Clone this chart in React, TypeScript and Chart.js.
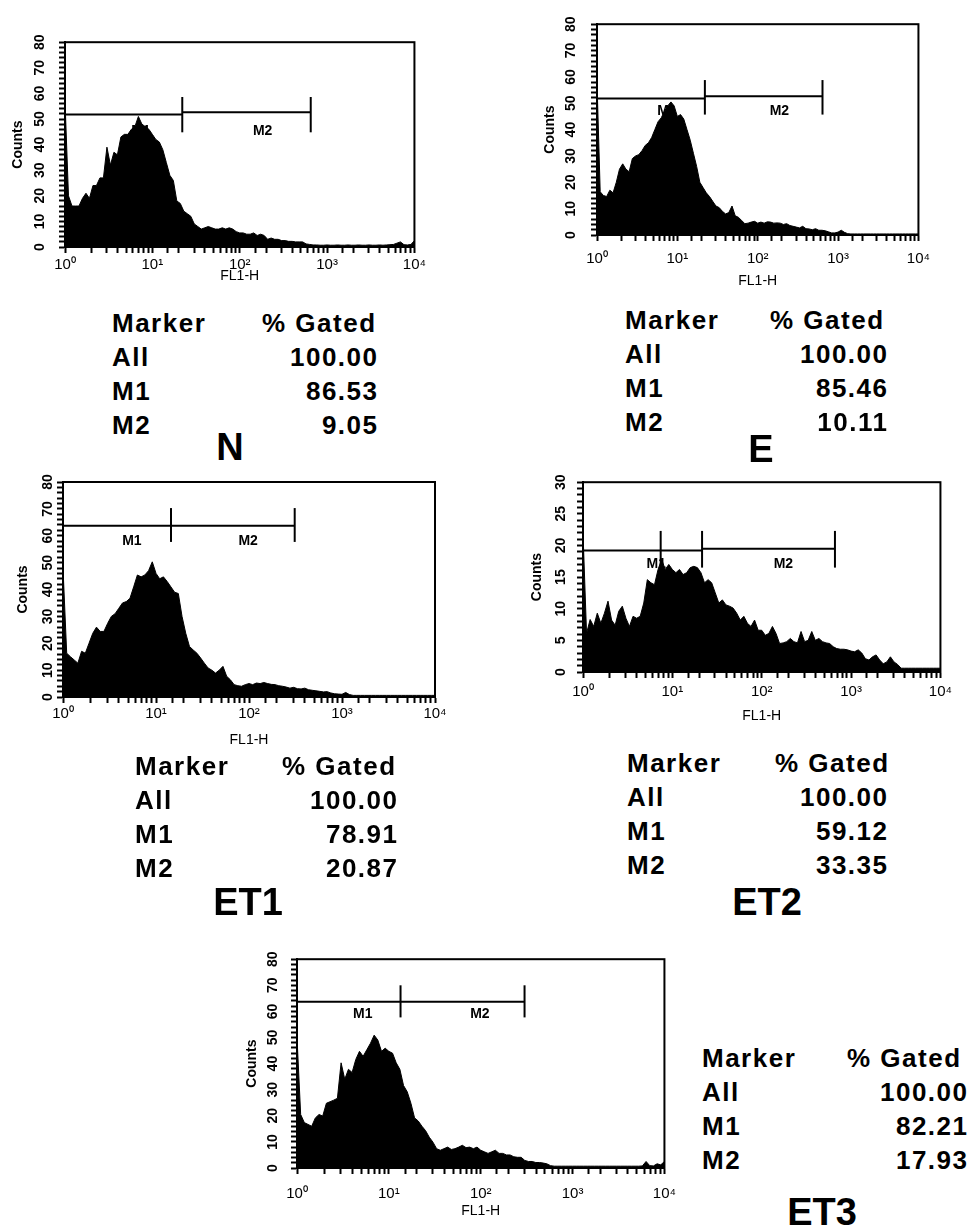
import React, { useEffect, useRef } from "react";
import { Chart, registerables } from "chart.js";

Chart.register(...registerables);

const FONT = "'Liberation Sans', Arial, Helvetica, sans-serif";

// Histogram channel positions (FL1-H, log decades 10^0..10^4)
const CHANNELS = [
  1, 1.096, 1.202, 1.318, 1.445, 1.585, 1.738, 1.905, 2.089, 2.291, 2.512, 2.754, 3.02, 3.311, 3.631, 3.981, 4.365, 4.786, 5.248, 5.754, 6.31, 6.918, 7.586, 8.318, 9.12,
  10, 10.96, 12.02, 13.18, 14.45, 15.85, 17.38, 19.05, 20.89, 22.91, 25.12, 27.54, 30.2, 33.11, 36.31, 39.81, 43.65, 47.86, 52.48, 57.54, 63.1, 69.18, 75.86, 83.18, 91.2,
  100, 109.6, 120.2, 131.8, 144.5, 158.5, 173.8, 190.5, 208.9, 229.1, 251.2, 275.4, 302, 331.1, 363.1, 398.1, 436.5, 478.6, 524.8, 575.4, 631, 691.8, 758.6, 831.8, 912,
  1000, 1096, 1202, 1318, 1445, 1585, 1738, 1905, 2089, 2291, 2512, 2754, 3020, 3311, 3631, 3981, 4365, 4786, 5248, 5754, 6310, 6918, 7586, 8318, 9120,
  10000,
];

const N_COUNTS = [
  57, 20, 16, 16, 16, 19, 21, 19, 24, 24,
  27, 27, 39, 32, 37, 36, 43, 44, 44, 46,
  47, 51, 48, 47, 46, 44, 42, 41, 38, 33,
  28, 26, 18, 17, 14, 13, 12, 9, 8, 7,
  7.5, 8, 7.5, 7, 7, 7.5, 7, 7.5, 7, 6,
  5.5, 5.5, 5, 5, 5.5, 4.5, 5, 4.5, 3, 3.5,
  3, 3, 2.5, 2.5, 2.2, 2.2, 2, 2, 2, 1.2,
  1, 0.8, 0.8, 0.7, 0.7, 0.8, 0.7, 0.7, 0.8, 0.7,
  0.7, 0.8, 0.7, 0.7, 0.8, 0.7, 0.7, 0.8, 0.7, 0.7,
  0.8, 0.7, 0.8, 0.9, 1, 1.5, 2, 0.9, 0.8, 1,
  2.5,
];

const E_COUNTS = [
  58, 16.4, 15, 14.6, 17, 16, 20, 25, 27, 25,
  24, 29, 30, 30.5, 32, 34, 35, 37, 40, 43,
  44.5, 47, 49, 50.5, 49, 45, 45.7, 44, 40, 36,
  31, 26, 20, 18, 16, 14.6, 12.8, 11, 10.4, 9,
  8, 8.5, 11, 7.3, 6.7, 5.5, 4.3, 4.5, 4.9, 5.2,
  4.5, 4.9, 4.5, 5, 4.9, 4.5, 4.6, 4.5, 4, 4.3,
  3.6, 3.3, 3, 2.7, 3.3, 2.4, 2.3, 2, 2.4, 1.8,
  1.8, 1.6, 1.2, 0.8, 0.8, 1.1, 1.8, 1, 0.5, 0.4,
  0.4, 0.4, 0.4, 0.4, 0.4, 0.4, 0.4, 0.4, 0.4, 0.4,
  0.4, 0.4, 0.4, 0.4, 0.4, 0.4, 0.4, 0.4, 0.4, 0.4,
  0.4,
];

const ET1_COUNTS = [
  48, 16.3, 15, 13.8, 12.6, 17, 16.3, 20, 23.7, 26,
  24.4, 24.4, 27.4, 30, 31, 33, 35, 35.5, 36.7, 41,
  45.4, 44.7, 45.4, 47, 50.3, 46, 44, 44.7, 43, 41,
  39, 38.5, 30, 23.7, 18.8, 17.5, 16.3, 14.5, 12.6, 10.8,
  10, 8.9, 10, 11.4, 7.7, 6.4, 4.6, 4.2, 4, 4.6,
  5, 4.6, 5.2, 5, 5.4, 5, 4.7, 4.6, 4.2, 4,
  3.7, 3.3, 3.6, 3.1, 3, 3.3, 2.7, 2.5, 2.3, 2.1,
  1.9, 2, 1.5, 1.2, 1.1, 1, 1.7, 0.9, 0.6, 0.6,
  0.6, 0.6, 0.6, 0.6, 0.6, 0.6, 0.6, 0.6, 0.6, 0.6,
  0.6, 0.6, 0.6, 0.6, 0.6, 0.6, 0.6, 0.6, 0.6, 0.6,
  0.6,
];

const ET2_COUNTS = [
  22, 6.1, 8.3, 7.2, 9.3, 7.7, 9.3, 11.2, 8.2, 7.4,
  9.6, 10.4, 8.5, 7.2, 8.8, 8.5, 8.8, 10.9, 14.6, 14.1,
  13.8, 16.2, 17.8, 16.2, 17, 16.2, 15.7, 16.2, 15.4, 15.7,
  16.5, 16.7, 16.5, 15.7, 14.1, 14.6, 14.1, 12.5, 10.9, 11.4,
  10.6, 10.4, 10.1, 9.3, 8.2, 8.8, 7.7, 7.2, 8.2, 6.6,
  6.6, 5.8, 6.1, 7.2, 6.1, 4.5, 4.6, 4.8, 5.3, 4.8,
  4.6, 6.4, 4.8, 5, 6.4, 5, 5.3, 4.8, 4.6, 4.5,
  4, 3.7, 3.6, 3.6, 3.5, 3.3, 3.2, 3.5, 3, 2.1,
  1.9, 2.4, 2.7, 1.9, 1.3, 1.6, 2.4, 1.6, 1.2, 0.6,
  0.6, 0.6, 0.6, 0.6, 0.6, 0.6, 0.6, 0.6, 0.6, 0.6,
  0.6,
];

const ET3_COUNTS = [
  50, 20.5, 17.4, 16.7, 16, 19.2, 20.5, 19.9, 24.8, 25.4,
  26, 26.7, 40.3, 34, 37.8, 36.6, 41.6, 44.7, 42.8, 45.3,
  47.8, 50.9, 49, 44.7, 45.9, 44.7, 44, 40.3, 37.8, 31.6,
  29.2, 24.8, 19.2, 18, 16, 14.3, 11.8, 9.9, 7.4, 6.8,
  7.4, 8, 7.1, 7.4, 8, 8.7, 7.8, 8, 7.4, 8,
  6.8, 6.2, 5.6, 6.2, 6.8, 5.6, 5.6, 5, 5, 4.3,
  4.1, 4.1, 2.9, 2.5, 2.5, 2.1, 2.1, 1.9, 1.6, 0.9,
  0.7, 0.7, 0.7, 0.7, 0.7, 0.7, 0.7, 0.7, 0.7, 0.7,
  0.7, 0.7, 0.7, 0.7, 0.7, 0.7, 0.7, 0.7, 0.7, 0.7,
  0.7, 0.7, 0.7, 0.7, 0.8, 2.5, 0.9, 0.8, 1.6, 1.2,
  2.5,
];

// Axis ticks
const X_TICK_VALUES = [1, 10, 100, 1000, 10000];
const X_TICK_LABELS = ["10\u2070", "10\u00B9", "10\u00B2", "10\u00B3", "10\u2074"];

// Marker gates (M1, M2)
const GATE_NAMES = ["M1", "M2"];
const N_GATE_EDGES = [1, 22, 650];
const N_GATE_LEVELS = [51.8, 52.6];
const N_GATE_BAR = [44.8, 58.6];
const N_GATE_LABEL_X = [7.4, 183];
const N_GATE_LABEL_Y = 45.3;

const E_GATE_EDGES = [1, 22, 640];
const E_GATE_LEVELS = [51.8, 52.7];
const E_GATE_BAR = [45.7, 58.8];
const E_GATE_LABEL_X = [7.4, 186];
const E_GATE_LABEL_Y = 47;

const ET1_GATE_EDGES = [1, 14.5, 310];
const ET1_GATE_LEVELS = [63.7, 63.7];
const ET1_GATE_BAR = [57.7, 70.3];
const ET1_GATE_LABEL_X = [5.5, 98];
const ET1_GATE_LABEL_Y = 58;

const ET2_GATE_EDGES = [1, 7.4, 21.5, 660];
const ET2_GATE_LEVELS = [19.2, 19.2, 19.5];
const ET2_GATE_BAR = [16.5, 22.3];
const ET2_GATE_LABEL_X = [6.6, 175];
const ET2_GATE_LABEL_Y = 17.05;

const ET3_GATE_EDGES = [1, 13.4, 300];
const ET3_GATE_LEVELS = [63.7, 63.7];
const ET3_GATE_BAR = [57.7, 70];
const ET3_GATE_LABEL_X = [5.2, 98];
const ET3_GATE_LABEL_Y = 58.8;

// Statistics tables
const TABLE_HEADER = ["Marker", "% Gated"];
const MARKER_ROWS = ["All", "M1", "M2"];
const N_GATED = ["100.00", "86.53", "9.05"];
const E_GATED = ["100.00", "85.46", "10.11"];
const ET1_GATED = ["100.00", "78.91", "20.87"];
const ET2_GATED = ["100.00", "59.12", "33.35"];
const ET3_GATED = ["100.00", "82.21", "17.93"];
const PANEL_NAMES = ["N", "E", "ET1", "ET2", "ET3"];

type Spec = {
  plot: number[];
  counts: number[];
  yMax: number;
  yStep: number;
  yMajor: number;
  edges: number[];
  levels: number[];
  bar: number[];
  labelX: number[];
  labelY: number;
  yTickPad: number;
  yTitlePad: number;
  xTickPad: number;
  xTitlePad: number;
};

const PANELS: Spec[] = [
  { plot: [65, 35, 415, 247], counts: N_COUNTS, yMax: 80, yStep: 2, yMajor: 10, edges: N_GATE_EDGES, levels: N_GATE_LEVELS, bar: N_GATE_BAR, labelX: N_GATE_LABEL_X, labelY: N_GATE_LABEL_Y, yTickPad: 10.8, yTitlePad: 7.2, xTickPad: 3, xTitlePad: 18.6 },
  { plot: [597, 16, 925, 235], counts: E_COUNTS, yMax: 80, yStep: 2, yMajor: 10, edges: E_GATE_EDGES, levels: E_GATE_LEVELS, bar: E_GATE_BAR, labelX: E_GATE_LABEL_X, labelY: E_GATE_LABEL_Y, yTickPad: 11.8, yTitlePad: 7.2, xTickPad: 9, xTitlePad: 1.6 },
  { plot: [63, 482, 435, 697], counts: ET1_COUNTS, yMax: 80, yStep: 2, yMajor: 10, edges: ET1_GATE_EDGES, levels: ET1_GATE_LEVELS, bar: ET1_GATE_BAR, labelX: ET1_GATE_LABEL_X, labelY: ET1_GATE_LABEL_Y, yTickPad: 1.5, yTitlePad: 14.2, xTickPad: 2, xTitlePad: 4.6 },
  { plot: [583, 478, 943, 672], counts: ET2_COUNTS, yMax: 30, yStep: 1, yMajor: 5, edges: ET2_GATE_EDGES, levels: ET2_GATE_LEVELS, bar: ET2_GATE_BAR, labelX: ET2_GATE_LABEL_X, labelY: ET2_GATE_LABEL_Y, yTickPad: 7.8, yTitlePad: 8.2, xTickPad: 5, xTitlePad: 3.6 },
  { plot: [297, 953, 673, 1168], counts: ET3_COUNTS, yMax: 80, yStep: 2, yMajor: 10, edges: ET3_GATE_EDGES, levels: ET3_GATE_LEVELS, bar: ET3_GATE_BAR, labelX: ET3_GATE_LABEL_X, labelY: ET3_GATE_LABEL_Y, yTickPad: 9.8, yTitlePad: 9.2, xTickPad: 11, xTitlePad: 4.6 },
];

const TABLES = [
  { values: N_GATED, markerLeft: 112, gatedLeft: 262, valueRight: 377, capTop: 313, nameX: 230, nameTop: 433 },
  { values: E_GATED, markerLeft: 625, gatedLeft: 770, valueRight: 887, capTop: 310, nameX: 761, nameTop: 435 },
  { values: ET1_GATED, markerLeft: 135, gatedLeft: 282, valueRight: 397, capTop: 756, nameX: 248, nameTop: 888 },
  { values: ET2_GATED, markerLeft: 627, gatedLeft: 775, valueRight: 887, capTop: 753, nameX: 767, nameTop: 888 },
  { values: ET3_GATED, markerLeft: 702, gatedLeft: 847, valueRight: 967, capTop: 1048, nameX: 822, nameTop: 1198 },
];

const Y_W = 62;
const X_H = 56;
const PAD_T = 12;
const PAD_R = 14;
const TICK_LEN = 6;

function xLabel(v: number): string {
  const i = X_TICK_VALUES.findIndex((t) => Math.abs(t - v) / t < 1e-6);
  return i >= 0 ? X_TICK_LABELS[i] : "";
}

function HistPanel({ spec }: { spec: Spec }) {
  const ref = useRef<HTMLCanvasElement | null>(null);
  const [L, T, R, B] = spec.plot;
  const width = R - L + Y_W + PAD_R;
  const height = B - T + PAD_T + X_H;

  useEffect(() => {
    const gatePlugin = {
      id: "gates",
      afterDatasetsDraw(chart: any) {
        const { ctx } = chart;
        const x = chart.scales.x;
        const y = chart.scales.y;
        ctx.save();
        ctx.strokeStyle = "#000";
        ctx.fillStyle = "#000";
        ctx.lineWidth = 2;
        for (let i = 0; i < spec.edges.length - 1; i++) {
          const py = y.getPixelForValue(spec.levels[i]);
          ctx.beginPath();
          ctx.moveTo(x.getPixelForValue(spec.edges[i]), py);
          ctx.lineTo(x.getPixelForValue(spec.edges[i + 1]), py);
          ctx.stroke();
        }
        const yl = y.getPixelForValue(spec.bar[0]);
        const yh = y.getPixelForValue(spec.bar[1]);
        for (let i = 1; i < spec.edges.length; i++) {
          const px = x.getPixelForValue(spec.edges[i]);
          ctx.beginPath();
          ctx.moveTo(px, yl);
          ctx.lineTo(px, yh);
          ctx.stroke();
        }
        ctx.font = `bold 14px ${FONT}`;
        ctx.textAlign = "center";
        ctx.textBaseline = "middle";
        GATE_NAMES.forEach((n, i) => {
          ctx.fillText(n, x.getPixelForValue(spec.labelX[i]), y.getPixelForValue(spec.labelY));
        });
        ctx.restore();
      },
    };
    const framePlugin = {
      id: "frame",
      afterDraw(chart: any) {
        const { ctx, chartArea: a } = chart;
        ctx.save();
        ctx.strokeStyle = "#000";
        ctx.lineWidth = 2;
        ctx.strokeRect(a.left, a.top, a.right - a.left, a.bottom - a.top);
        ctx.restore();
      },
    };

    const chart = new Chart(ref.current as HTMLCanvasElement, {
      type: "line",
      data: {
        datasets: [
          {
            data: CHANNELS.map((x, i) => ({ x, y: spec.counts[i] })),
            fill: "origin",
            backgroundColor: "#000",
            borderColor: "#000",
            borderWidth: 1,
            pointRadius: 0,
            tension: 0,
          },
        ],
      },
      options: {
        animation: false,
        responsive: false,
        maintainAspectRatio: false,
        events: [],
        layout: { padding: { left: 0, top: PAD_T, right: PAD_R, bottom: 0 } },
        plugins: { legend: { display: false }, tooltip: { enabled: false } },
        scales: {
          x: {
            type: "logarithmic",
            min: 1,
            max: 10000,
            border: { display: true, color: "#000", width: 2 },
            grid: { display: true, drawOnChartArea: false, drawTicks: true, tickLength: TICK_LEN, tickWidth: 2, tickColor: "#000" },
            ticks: {
              autoSkip: false,
              maxRotation: 0,
              minRotation: 0,
              padding: spec.xTickPad,
              color: "#000",
              font: { family: FONT, size: 15 },
              callback: (v: any) => xLabel(Number(v)),
            },
            title: { display: true, text: "FL1-H", color: "#000", font: { family: FONT, size: 14 }, padding: { top: 0, bottom: spec.xTitlePad } },
            afterFit: (s: any) => {
              s.height = X_H;
            },
          },
          y: {
            type: "linear",
            min: 0,
            max: spec.yMax,
            border: { display: true, color: "#000", width: 2 },
            grid: { display: true, drawOnChartArea: false, drawTicks: true, tickLength: TICK_LEN, tickWidth: 2, tickColor: "#000" },
            ticks: {
              stepSize: spec.yStep,
              maxTicksLimit: 200,
              autoSkip: false,
              minRotation: 90,
              maxRotation: 90,
              crossAlign: "center",
              padding: spec.yTickPad,
              color: "#000",
              font: { family: FONT, size: 14, weight: "bold" },
              callback: (v: any) => (Number(v) % spec.yMajor === 0 ? String(v) : ""),
            },
            title: { display: true, text: "Counts", color: "#000", font: { family: FONT, size: 14, weight: "bold" }, padding: { top: spec.yTitlePad, bottom: 0 } },
            afterFit: (s: any) => {
              s.width = Y_W;
            },
          },
        },
      } as any,
      plugins: [gatePlugin, framePlugin],
    });
    return () => chart.destroy();
  }, []);

  return (
    <canvas
      ref={ref}
      width={width}
      height={height}
      style={{ position: "absolute", left: L - Y_W, top: T - PAD_T, width, height }}
    />
  );
}

const TXT: React.CSSProperties = {
  position: "absolute",
  fontFamily: FONT,
  fontWeight: "bold",
  fontSize: 26,
  lineHeight: "26px",
  letterSpacing: "1.5px",
  color: "#000",
  whiteSpace: "nowrap",
};

function StatsTable({ t, name }: { t: (typeof TABLES)[number]; name: string }) {
  const top0 = t.capTop - 3.4;
  const pitch = 34;
  return (
    <>
      <div style={{ ...TXT, left: t.markerLeft, top: top0 }}>{TABLE_HEADER[0]}</div>
      <div style={{ ...TXT, left: t.gatedLeft, top: top0 }}>{TABLE_HEADER[1]}</div>
      {MARKER_ROWS.map((m, i) => (
        <React.Fragment key={m}>
          <div style={{ ...TXT, left: t.markerLeft, top: top0 + pitch * (i + 1) }}>{m}</div>
          <div style={{ ...TXT, right: 972 - t.valueRight - 1.5, top: top0 + pitch * (i + 1), textAlign: "right" }}>{t.values[i]}</div>
        </React.Fragment>
      ))}
      <div
        style={{
          ...TXT,
          fontSize: 38,
          lineHeight: "38px",
          letterSpacing: "0px",
          left: t.nameX - 100,
          width: 200,
          textAlign: "center",
          top: t.nameTop - 5,
        }}
      >
        {name}
      </div>
    </>
  );
}

export default function App() {
  return (
    <div style={{ position: "absolute", left: 0, top: 0, width: 972, height: 1231, background: "#fff", overflow: "hidden" }}>
      {PANELS.map((p, i) => (
        <HistPanel key={i} spec={p} />
      ))}
      {TABLES.map((t, i) => (
        <StatsTable key={i} t={t} name={PANEL_NAMES[i]} />
      ))}
    </div>
  );
}
